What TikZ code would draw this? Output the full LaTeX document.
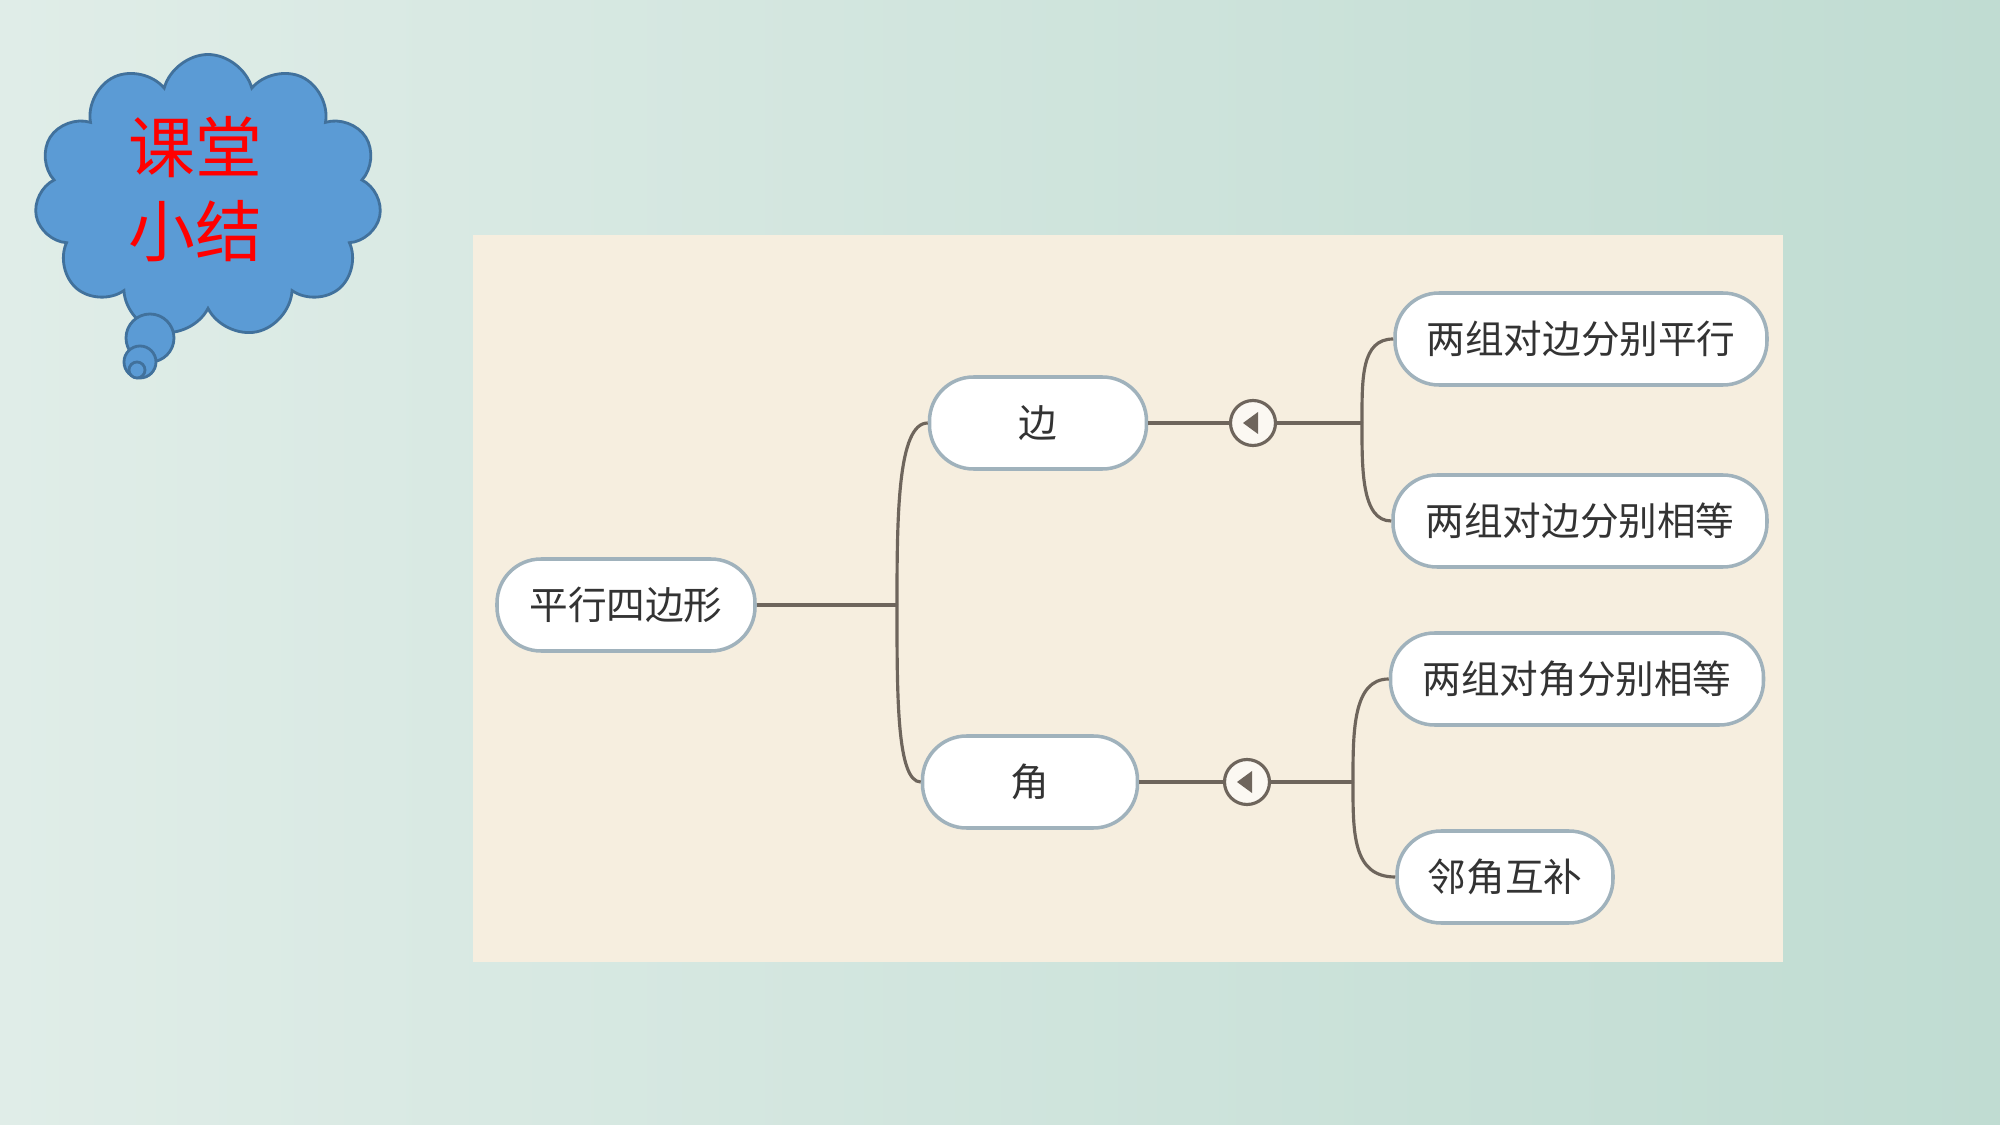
\documentclass[tikz,border=0pt]{standalone}
\usepackage{fontspec}
\newfontfamily\cjk{Noto Sans CJK SC}
\usetikzlibrary{shapes.symbols}
\definecolor{bgleft}{RGB}{224,237,232}
\definecolor{bgright}{RGB}{192,220,210}
\definecolor{panel}{RGB}{246,238,223}
\definecolor{cloudblue}{RGB}{91,155,213}
\definecolor{cloudline}{RGB}{65,113,156}
\definecolor{branch}{RGB}{110,101,92}
\definecolor{rim}{RGB}{160,178,188}

\begin{document}
\begin{tikzpicture}[x=0.1mm,y=-0.1mm,
topic/.style={draw=rim,line width=1pt,fill=white,rounded corners=4.4mm,minimum height=9.2mm,inner sep=0pt,font=\cjk\fontsize{11pt}{13pt}\selectfont,text=black!80},
link/.style={draw=branch,line width=0.9pt},
toggle/.style={circle,draw=branch,line width=0.9pt,fill=panel!40!white,minimum size=4.5mm,inner sep=0pt}]
\shade[left color=bgleft,right color=bgright] (0,0) rectangle (2000,1125);
\fill[panel] (473,235) rectangle (1783,962);
\node[cloud,cloud puffs=11,draw=cloudline,fill=cloudblue,line width=0.8pt,minimum width=3.47cm,minimum height=2.83cm] (bubble) at (208,196) {};
\foreach \x/\y/\r in {150/338/2.4,140/362/1.6,137/370/0.8}
\draw[cloudline,fill=cloudblue,line width=0.8pt] (\x,\y) circle (\r mm);
\node[text=red,font=\cjk\fontsize{19pt}{24pt}\selectfont,align=center] (title) at (195,189) {课堂\\小结};
\node[topic,minimum width=2.58cm] (shape) at (626,605) {平行四边形};
\node[topic,minimum width=2.17cm] (side) at (1038,423) {边};
\node[topic,minimum width=2.15cm] (angle) at (1030,782) {角};
\node[topic,minimum width=3.72cm] (sidepar) at (1581,339) {两组对边分别平行};
\node[topic,minimum width=3.74cm] (sideeq) at (1580,521) {两组对边分别相等};
\node[topic,minimum width=3.73cm] (angeq) at (1577,679) {两组对角分别相等};
\node[topic,minimum width=2.16cm] (angsup) at (1505,877) {邻角互补};
\coordinate (fork) at (897,605);
\coordinate (sidefork) at (1362,423);
\coordinate (angfork) at (1353,782);
\foreach \n/\x/\y in {sidetog/1253/423,angtog/1247/782} {
\node[toggle] (\n) at (\x,\y) {};
\fill[branch] (\x-10,\y) -- (\x+5,\y-11) -- (\x+5,\y+11) -- cycle;
}
\draw[link] (shape) -- (fork);
\draw[link] (side.west) .. controls +(-30,0) and +(0,-90) .. (fork);
\draw[link] (angle.west) .. controls +(-24,0) and +(0,90) .. (fork);
\draw[link] (side) -- (sidetog);
\draw[link] (sidetog) -- (sidefork);
\draw[link] (sidepar.west) .. controls +(-32,0) and +(0,-45) .. (sidefork);
\draw[link] (sideeq.west) .. controls +(-30,0) and +(0,45) .. (sidefork);
\draw[link] (angle) -- (angtog);
\draw[link] (angtog) -- (angfork);
\draw[link] (angeq.west) .. controls +(-36,0) and +(0,-50) .. (angfork);
\draw[link] (angsup.west) .. controls +(-43,0) and +(0,50) .. (angfork);
\end{tikzpicture}
\end{document}
